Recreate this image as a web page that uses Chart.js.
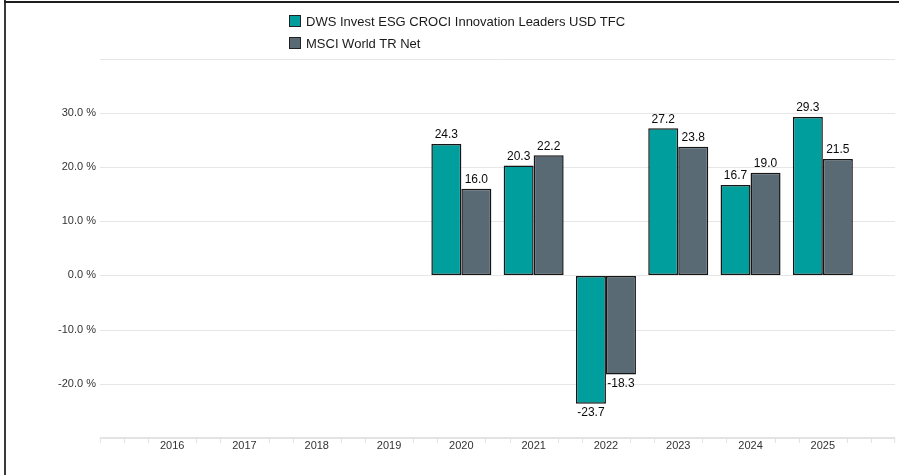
<!DOCTYPE html>
<html>
<head>
<meta charset="utf-8">
<script src="https://cdn.jsdelivr.net/npm/chart.js@4"></script>
<style>
  body { margin: 0; background: #fff; }
  #wrap { position: relative; width: 899px; height: 475px; overflow: hidden; font-family: "Liberation Sans", Arial, sans-serif; }
  #frameLeft { position: absolute; left: 4px; top: 0; width: 2px; height: 475px; background: #3a3a3a; }
  #frameTop { position: absolute; left: 4px; top: 1px; width: 895px; height: 2px; background: #1e1e1e; }
  #legend { position: absolute; left: 289px; top: 10px; font-size: 13px; color: #1a1a1a; }
  .item { display: flex; align-items: center; height: 22px; }
  .box { width: 10px; height: 10px; border: 1px solid #222; margin-right: 5px; }
</style>
</head>
<body>
<div id="wrap">
  <canvas id="grafico" width="899" height="475"></canvas>
  <div id="legend"></div>
  <div id="frameLeft"></div>
  <div id="frameTop"></div>
</div>
<script>
const anos = ['2016', '2017', '2018', '2019', '2020', '2021', '2022', '2023', '2024', '2025'];
const fundo = [null, null, null, null, 24.3, 20.3, -23.7, 27.2, 16.7, 29.3];
const indice = [null, null, null, null, 16.0, 22.2, -18.3, 23.8, 19.0, 21.5];
const nomes = ['DWS Invest ESG CROCI Innovation Leaders USD TFC', 'MSCI World TR Net'];
const cores = ['#009e9c', '#596a75'];
const yTicks = [-30, -20, -10, 0, 10, 20, 30, 40];

// legenda em html (duas linhas, alinhada a esquerda)
const legend = document.getElementById('legend');
nomes.forEach(function (nome, i) {
  const div = document.createElement('div');
  div.className = 'item';
  div.innerHTML = '<span class="box" style="background:' + cores[i] + '"></span><span>' + nome + '</span>';
  legend.appendChild(div);
});

// linhas de grade e eixo x que passam da area do grafico
const linhas = {
  id: 'linhas',
  beforeDatasetsDraw(chart) {
    const ctx = chart.ctx;
    const x = chart.scales.x;
    const y = chart.scales.y;
    const esq = x.getPixelForValue(-1);
    const dir = x.getPixelForValue(anos.length);
    ctx.save();
    ctx.strokeStyle = '#e6e6e6';
    ctx.lineWidth = 1;
    yTicks.slice(1).forEach(function (v) {
      const py = Math.round(y.getPixelForValue(v)) + 0.5;
      ctx.beginPath();
      ctx.moveTo(esq, py);
      ctx.lineTo(dir, py);
      ctx.stroke();
    });
    const base = Math.round(y.getPixelForValue(yTicks[0]));
    ctx.strokeStyle = '#e3e3e3';
    ctx.lineWidth = 2;
    ctx.beginPath();
    ctx.moveTo(esq, base);
    ctx.lineTo(dir, base);
    ctx.stroke();
    ctx.lineWidth = 1;
    const passo = x.getPixelForValue(1) - x.getPixelForValue(0);
    for (let i = -1; i < anos.length; i++) {
      [1, 2].forEach(function (k) {
        const px = Math.round(x.getPixelForValue(i) + passo * k / 3) + 0.5;
        ctx.beginPath();
        ctx.moveTo(px, base);
        ctx.lineTo(px, base + 5);
        ctx.stroke();
      });
    }
    ctx.beginPath();
    ctx.moveTo(esq + 0.5, base);
    ctx.lineTo(esq + 0.5, base + 5);
    ctx.moveTo(dir - 0.5, base);
    ctx.lineTo(dir - 0.5, base + 5);
    ctx.stroke();
    ctx.restore();
  }
};

// valores em cima/baixo das barras
const rotulos = {
  id: 'rotulos',
  afterDatasetsDraw(chart) {
    const ctx = chart.ctx;
    ctx.save();
    ctx.font = '12px "Liberation Sans", Arial, sans-serif';
    ctx.fillStyle = '#0a0a0a';
    ctx.textAlign = 'center';
    chart.data.datasets.forEach(function (ds, d) {
      chart.getDatasetMeta(d).data.forEach(function (bar, i) {
        const v = ds.data[i];
        if (v === null) return;
        if (v >= 0) {
          ctx.textBaseline = 'bottom';
          ctx.fillText(v.toFixed(1), bar.x, bar.y - 3);
        } else {
          ctx.textBaseline = 'top';
          ctx.fillText(v.toFixed(1), bar.x, bar.y + 3);
        }
      });
    });
    ctx.restore();
  }
};

const ctx = document.getElementById('grafico').getContext('2d');
new Chart(ctx, {
  type: 'bar',
  data: {
    labels: anos,
    datasets: [{
      label: nomes[0],
      data: fundo,
      backgroundColor: cores[0],
      borderColor: '#151515',
      borderWidth: 1.5,
      borderSkipped: false
    }, {
      label: nomes[1],
      data: indice,
      backgroundColor: cores[1],
      borderColor: '#151515',
      borderWidth: 1.5,
      borderSkipped: false
    }]
  },
  options: {
    responsive: false,
    animation: false,
    categoryPercentage: 0.83,
    barPercentage: 1,
    layout: { padding: { top: 59, right: 40, bottom: 20, left: 0 } },
    plugins: {
      legend: { display: false },
      tooltip: { enabled: false }
    },
    scales: {
      x: {
        offset: true,
        grid: { display: false, drawTicks: false },
        border: { display: false },
        ticks: {
          color: '#333',
          font: { size: 11, family: '"Liberation Sans", Arial, sans-serif' },
          padding: 2,
          maxRotation: 0,
          autoSkip: false
        }
      },
      y: {
        min: -30,
        max: 40,
        grid: { display: true, drawOnChartArea: false, drawTicks: true, tickLength: 36, color: 'rgba(0,0,0,0)' },
        border: { display: false },
        afterFit(scale) { scale.width = 136; },
        afterBuildTicks(scale) { scale.ticks = yTicks.map(v => ({ value: v })); },
        ticks: {
          color: '#333',
          font: { size: 11, family: '"Liberation Sans", Arial, sans-serif' },
          padding: 4,
          callback: v => (v > -30 && v < 40) ? v.toFixed(1) + ' %' : ''
        }
      }
    }
  },
  plugins: [linhas, rotulos]
});
</script>
</body>
</html>
